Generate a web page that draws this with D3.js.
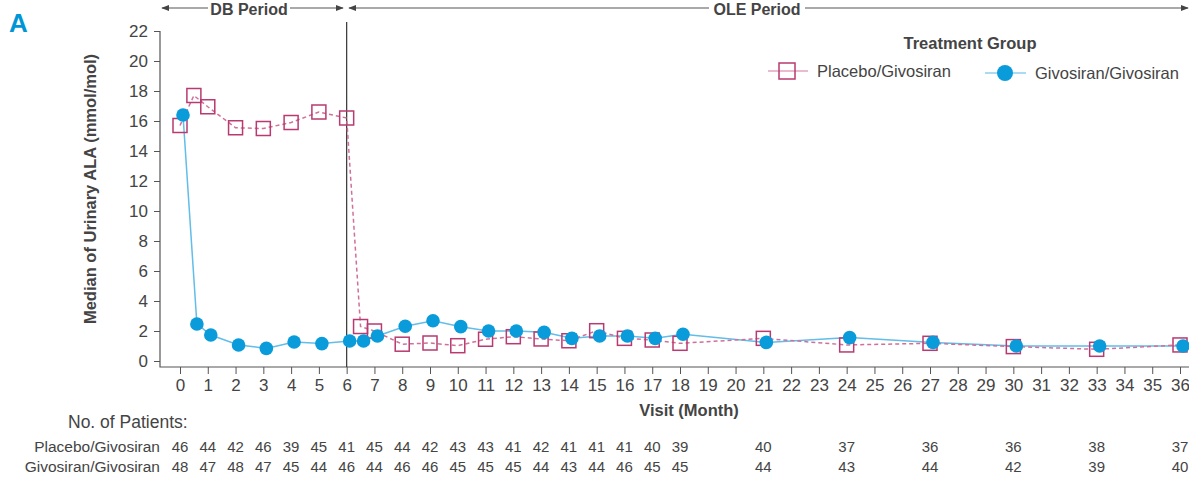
<!DOCTYPE html>
<html>
  <head>
    <meta charset="utf-8">
    <title>Urinary ALA</title>
    <script src="https://d3js.org/d3.v7.min.js"></script>
    <style type="text/css">
    body { margin: 0; background: #fff; }
    svg text { font-family: "Liberation Sans", Arial, sans-serif; fill: #444; }
    .bold { font-weight: bold; }
    </style>
  </head>
  <body>
    <div id="chart"></div>

    <script>
      // visit months and medians (mmol/mol)
      var months = [0, 0.5, 1, 2, 3, 4, 5, 6, 6.5, 7, 8, 9, 10, 11, 12, 13, 14, 15, 16, 17, 18, 21, 24, 27, 30, 33, 36];
      var placebo = [15.7, 17.7, 16.95, 15.55, 15.5, 15.9, 16.6, 16.2, 2.3, 2.0, 1.12, 1.2, 1.02, 1.45, 1.62, 1.47, 1.35, 2.02, 1.51, 1.4, 1.18, 1.51, 1.07, 1.18, 0.96, 0.78, 1.07];
      var givosiran = [16.4, 2.47, 1.73, 1.07, 0.84, 1.27, 1.16, 1.33, 1.33, 1.67, 2.32, 2.68, 2.29, 2.0, 2.0, 1.91, 1.51, 1.67, 1.67, 1.51, 1.78, 1.24, 1.56, 1.24, 1.0, 1.0, 1.0];

      // number of patients table
      var nMonths = [0, 1, 2, 3, 4, 5, 6, 7, 8, 9, 10, 11, 12, 13, 14, 15, 16, 17, 18, 21, 24, 27, 30, 33, 36];
      var nPlacebo = [46, 44, 42, 46, 39, 45, 41, 45, 44, 42, 43, 43, 41, 42, 41, 41, 41, 40, 39, 40, 37, 36, 36, 38, 37];
      var nGivosiran = [48, 47, 48, 47, 45, 44, 46, 44, 46, 46, 45, 45, 45, 44, 43, 44, 46, 45, 45, 44, 43, 44, 42, 39, 40];

      var xTicks = d3.range(0, 37);
      var yTicks = d3.range(0, 23, 2);

      var width = 1189, height = 478;
      var pink = "#b83a70", pinkLine = "#d0709a";
      var blue = "#0a9bda", blueLine = "#62bde8";
      var axisColor = "#555";

      var svg = d3.select('#chart').append('svg')
          .attr('width', width)
          .attr('height', height);

      var defs = svg.append('defs');
      defs.append('marker')
          .attr('id', 'arrow')
          .attr('viewBox', '0 0 10 10')
          .attr('refX', 9).attr('refY', 5)
          .attr('markerWidth', 8).attr('markerHeight', 8)
          .attr('markerUnits', 'userSpaceOnUse')
          .attr('orient', 'auto-start-reverse')
          .append('path')
          .attr('d', 'M0,1L10,5L0,9Z')
          .attr('fill', '#444');

      var x = d3.scaleLinear().domain([0, 36]).range([180, 1180]);
      var y = d3.scaleLinear().domain([0, 22]).range([361, 31]);
      var axisY = 367, axisX = 160;
      var dodge = 3;

      // panel letter
      svg.append('text')
          .attr('x', 9).attr('y', 32)
          .attr('class', 'bold')
          .style('font-size', '26px')
          .style('fill', '#0096d6')
          .text('A');

      // period headers
      function period(x0, x1, t0, t1, label, tx) {
        svg.append('line')
            .attr('x1', t0).attr('x2', x0).attr('y1', 8).attr('y2', 8)
            .attr('stroke', axisColor).attr('stroke-width', 1.2)
            .attr('marker-end', 'url(#arrow)');
        svg.append('line')
            .attr('x1', t1).attr('x2', x1).attr('y1', 8).attr('y2', 8)
            .attr('stroke', axisColor).attr('stroke-width', 1.2)
            .attr('marker-end', 'url(#arrow)');
        svg.append('text')
            .attr('x', tx).attr('y', 15)
            .attr('class', 'bold')
            .attr('text-anchor', 'middle')
            .style('font-size', '16px')
            .text(label);
      }
      period(162, 343, 208, 290, 'DB Period', 249);
      period(349, 1188, 709, 805, 'OLE Period', 757);

      // axes
      var yAxis = svg.append('g')
          .attr('transform', 'translate(' + axisX + ',0)')
          .call(d3.axisLeft(y).tickValues(yTicks).tickSize(6).tickPadding(6));
      yAxis.select('.domain').remove();
      yAxis.selectAll('line').attr('stroke', axisColor);
      yAxis.selectAll('text').style('font-size', '17px').style('fill', '#444').attr('font-family', null);

      var xAxis = svg.append('g')
          .attr('transform', 'translate(0,' + axisY + ')')
          .call(d3.axisBottom(x).tickValues(xTicks).tickSize(7).tickPadding(5));
      xAxis.select('.domain').remove();
      xAxis.selectAll('line').attr('stroke', axisColor);
      xAxis.selectAll('text').style('font-size', '17px').style('fill', '#444').attr('font-family', null);

      svg.append('path')
          .attr('d', 'M' + axisX + ',' + y(22) + 'V' + axisY + 'H' + width)
          .attr('fill', 'none')
          .attr('stroke', axisColor)
          .attr('stroke-width', 1.2);

      // DB / OLE divider
      svg.append('line')
          .attr('x1', x(6)).attr('x2', x(6))
          .attr('y1', 22).attr('y2', axisY)
          .attr('stroke', '#333').attr('stroke-width', 1.2);

      // axis titles
      svg.append('text')
          .attr('class', 'bold')
          .attr('transform', 'translate(96,189) rotate(-90)')
          .attr('text-anchor', 'middle')
          .style('font-size', '16.5px')
          .text('Median of Urinary ALA (mmol/mol)');

      svg.append('text')
          .attr('class', 'bold')
          .attr('x', 689).attr('y', 416)
          .attr('text-anchor', 'middle')
          .style('font-size', '16.5px')
          .text('Visit (Month)');

      // series
      var ptsP = months.map(function(m, i) { return [m, placebo[i]]; });
      var ptsG = months.map(function(m, i) { return [m, givosiran[i]]; });

      var lineP = d3.line().x(function(d) { return x(d[0]); }).y(function(d) { return y(d[1]); });
      var lineG = d3.line().x(function(d) { return x(d[0]) + dodge; }).y(function(d) { return y(d[1]); });

      svg.append('path')
          .datum(ptsG)
          .attr('d', lineG)
          .attr('fill', 'none')
          .attr('stroke', blueLine)
          .attr('stroke-width', 1.5);

      svg.append('path')
          .datum(ptsP)
          .attr('d', lineP)
          .attr('fill', 'none')
          .attr('stroke', pinkLine)
          .attr('stroke-width', 1.5)
          .attr('stroke-dasharray', '4,3');

      svg.selectAll('rect.pl')
          .data(ptsP)
          .enter()
          .append('rect')
          .attr('class', 'pl')
          .attr('x', function(d) { return x(d[0]) - 7; })
          .attr('y', function(d) { return y(d[1]) - 7; })
          .attr('width', 14).attr('height', 14)
          .attr('fill', 'none')
          .attr('stroke', pink)
          .attr('stroke-width', 1.5);

      svg.selectAll('circle.gv')
          .data(ptsG)
          .enter()
          .append('circle')
          .attr('class', 'gv')
          .attr('cx', function(d) { return x(d[0]) + dodge; })
          .attr('cy', function(d) { return y(d[1]); })
          .attr('r', 6.8)
          .attr('fill', blue);

      // legend
      var lg = svg.append('g');
      lg.append('text')
          .attr('class', 'bold')
          .attr('x', 970).attr('y', 49)
          .attr('text-anchor', 'middle')
          .style('font-size', '16.5px')
          .text('Treatment Group');

      lg.append('line')
          .attr('x1', 768).attr('x2', 808).attr('y1', 71).attr('y2', 71)
          .attr('stroke', '#e3a3bf').attr('stroke-width', 1.5);
      lg.append('rect')
          .attr('x', 779).attr('y', 63).attr('width', 16).attr('height', 16)
          .attr('fill', 'none').attr('stroke', pink).attr('stroke-width', 1.5);
      lg.append('text')
          .attr('x', 817).attr('y', 77)
          .style('font-size', '16.5px')
          .text('Placebo/Givosiran');

      lg.append('line')
          .attr('x1', 985).attr('x2', 1026).attr('y1', 73).attr('y2', 73)
          .attr('stroke', '#8ccfee').attr('stroke-width', 1.5);
      lg.append('circle')
          .attr('cx', 1005).attr('cy', 73).attr('r', 8)
          .attr('fill', blue);
      lg.append('text')
          .attr('x', 1035).attr('y', 79)
          .style('font-size', '16.5px')
          .text('Givosiran/Givosiran');

      // number of patients
      svg.append('text')
          .attr('x', 68).attr('y', 428)
          .style('font-size', '17.5px')
          .text('No. of Patients:');

      var rows = [['Placebo/Givosiran', nPlacebo, 452], ['Givosiran/Givosiran', nGivosiran, 472]];
      rows.forEach(function(r) {
        svg.append('text')
            .attr('x', 160).attr('y', r[2])
            .attr('text-anchor', 'end')
            .style('font-size', '15.5px')
            .text(r[0]);
        svg.selectAll(null)
            .data(r[1])
            .enter()
            .append('text')
            .attr('x', function(d, i) { return x(nMonths[i]); })
            .attr('y', r[2])
            .attr('text-anchor', 'middle')
            .style('font-size', '15px')
            .text(function(d) { return d; });
      });
    </script>
  </body>
</html>
